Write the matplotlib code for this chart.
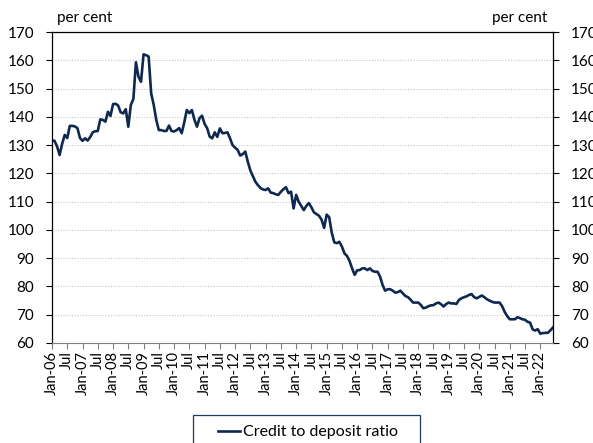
import numpy as np
import matplotlib.pyplot as plt
from matplotlib.patches import Rectangle

plt.rcParams["font.family"] = ["Lato", "DejaVu Sans"]

# Monthly credit to deposit ratio, Jan-06 .. Jun-22 (per cent)
ratio_2006 = [131.6, 131.5, 129.5, 126.5, 130.5, 133.6, 132.5, 136.8, 136.8, 136.6, 136.0, 132.5]
ratio_2007 = [131.5, 132.4, 131.6, 132.8, 134.5, 134.9, 135.0, 139.1, 138.9, 138.3, 141.8, 140.3]
ratio_2008 = [144.5, 144.6, 144.0, 141.6, 141.2, 142.7, 136.5, 144.2, 146.3, 159.3, 154.2, 152.4]
ratio_2009 = [162.1, 161.8, 161.3, 148.3, 144.2, 138.9, 135.3, 135.3, 135.0, 135.0, 136.9, 135.0]
ratio_2010 = [134.8, 135.3, 136.0, 134.2, 138.0, 142.4, 141.3, 142.4, 139.0, 136.5, 139.5, 140.4]
ratio_2011 = [137.5, 136.0, 133.0, 132.4, 134.5, 132.9, 135.9, 134.2, 134.3, 134.5, 132.4, 130.0]
ratio_2012 = [129.1, 128.3, 126.3, 126.8, 127.7, 124.1, 121.0, 119.0, 117.0, 115.8, 114.8, 114.3]
ratio_2013 = [114.1, 114.7, 113.2, 113.0, 112.6, 112.4, 113.5, 114.4, 115.1, 113.0, 113.5, 107.6]
ratio_2014 = [112.4, 110.0, 108.5, 107.0, 108.5, 109.5, 108.0, 106.2, 105.6, 105.0, 103.6, 100.7]
ratio_2015 = [105.4, 104.5, 99.0, 95.6, 95.3, 95.8, 94.1, 91.7, 90.8, 89.0, 86.4, 84.1]
ratio_2016 = [85.7, 85.8, 86.4, 86.4, 85.8, 86.4, 85.5, 85.2, 85.2, 83.5, 80.5, 78.5]
ratio_2017 = [79.0, 79.0, 78.5, 77.8, 78.0, 78.5, 77.5, 76.6, 76.2, 75.3, 74.3, 74.3]
ratio_2018 = [74.3, 73.5, 72.3, 72.5, 73.0, 73.3, 73.4, 74.0, 74.3, 73.7, 72.9, 73.8]
ratio_2019 = [74.3, 74.0, 74.0, 73.8, 75.2, 75.8, 76.2, 76.5, 77.0, 77.3, 76.2, 75.8]
ratio_2020 = [76.3, 76.8, 76.2, 75.5, 75.0, 74.6, 74.3, 74.3, 74.3, 73.0, 71.0, 69.5]
ratio_2021 = [68.4, 68.4, 68.4, 69.1, 68.8, 68.4, 68.2, 67.5, 67.2, 64.8, 64.4, 64.9]
ratio_2022 = [63.3, 63.5, 63.6, 63.6, 64.5, 65.5]

years = list(range(2006, 2023))
series_name = "Credit to deposit ratio"

ratio = (ratio_2006 + ratio_2007 + ratio_2008 + ratio_2009 + ratio_2010
         + ratio_2011 + ratio_2012 + ratio_2013 + ratio_2014 + ratio_2015
         + ratio_2016 + ratio_2017 + ratio_2018 + ratio_2019 + ratio_2020
         + ratio_2021 + ratio_2022)
months = np.arange(len(ratio))

tick_labels = []
for y in years:
    tick_labels.append(f"Jan-{y % 100:02d}")
    if y < years[-1]:
        tick_labels.append("Jul")
tick_pos = np.arange(len(tick_labels)) * 6

W, H = 593, 443
fig = plt.figure(figsize=(W / 100, H / 100), dpi=100)
ax = fig.add_axes([52 / W, 1 - 343 / H, 501 / W, 311 / H])

ax.plot(months, ratio, color="#0f2850", linewidth=1.9, label=series_name)

ax.set_xlim(0, len(ratio) - 1)
ax.set_ylim(60, 170)
ax.set_yticks(range(60, 171, 10))
ax.set_xticks(tick_pos)
ax.set_xticklabels(tick_labels, rotation=90, fontsize=10.5)

ax.grid(axis="y", color="#c8c8c8", linestyle=(0, (1, 1.5)), linewidth=0.8)
ax.set_axisbelow(True)

ax.tick_params(axis="both", direction="out", length=4, width=0.8,
               color="#808080", labelsize=11)
ax.tick_params(axis="y", which="both", left=True, right=True,
               labelleft=True, labelright=True, color="black", pad=9)
ax.tick_params(axis="x", pad=2, labelsize=10.5)

for side in ["left", "right", "top"]:
    ax.spines[side].set_color("black")
    ax.spines[side].set_linewidth(0.9)
ax.spines["bottom"].set_color("#808080")

fig.text(57 / W, 1 - 18 / H, "per cent", fontsize=11, va="center", ha="left")
fig.text(547 / W, 1 - 18 / H, "per cent", fontsize=11, va="center", ha="right")

# legend box runs off the bottom edge, as in the source
box = Rectangle((193 / W, -0.05), 227 / W, 0.05 + 28 / H,
                transform=fig.transFigure, facecolor="white",
                edgecolor="#1f3a60", linewidth=0.9)
fig.patches.append(box)

leg = fig.legend(loc="center", bbox_to_anchor=(308 / W, 1 - 432 / H),
                 frameon=False, fontsize=11.5,
                 handlelength=1.4, handletextpad=0.15, borderpad=0,
                 borderaxespad=0)

fig.savefig("out.png", dpi=100)
